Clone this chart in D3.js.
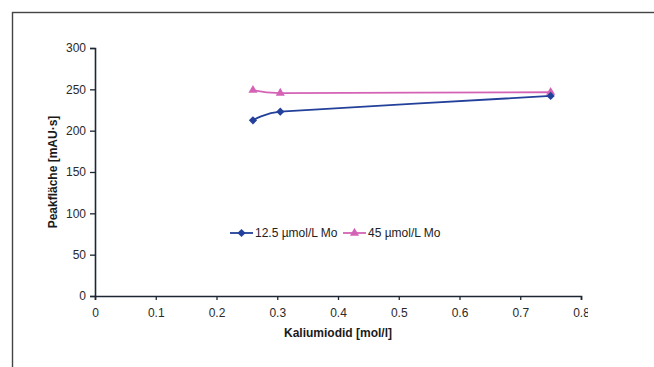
<!DOCTYPE html>
<html>
<head>
<meta charset="utf-8">
<script src="https://cdn.jsdelivr.net/npm/d3@7"></script>
<style>
  html, body { margin: 0; padding: 0; background: #fff; }
  svg { display: block; font-family: "Liberation Sans", Arial, sans-serif; }
</style>
</head>
<body>
<div id="chart"></div>
<script>
/* data */
const kiConc = [0.26, 0.305, 0.75];
const mo125 = [212.5, 223, 242];
const mo45 = [249, 245.5, 246.5];
const seriesNames = ["12.5 µmol/L Mo", "45 µmol/L Mo"];
const xTicks = [0, 0.1, 0.2, 0.3, 0.4, 0.5, 0.6, 0.7, 0.8];
const yTicks = [0, 50, 100, 150, 200, 250, 300];

const chartW = 654, chartH = 367;
const plotLeft = 95, plotRight = 581, plotTop = 48, plotBottom = 296;

const svg = d3.select("#chart").append("svg")
  .attr("width", chartW)
  .attr("height", chartH);

/* outer frame */
svg.append("rect")
  .attr("x", 12.5).attr("y", 12.5)
  .attr("width", 700).attr("height", 400)
  .attr("fill", "none").attr("stroke", "#444").attr("stroke-width", 1.4);

/* the plot picture is cut off on the right */
svg.append("clipPath").attr("id", "cut")
  .append("rect").attr("x", 0).attr("y", 0).attr("width", 588).attr("height", chartH);

const g = svg.append("g").attr("clip-path", "url(#cut)");

const x = d3.scaleLinear().domain([0, 0.8]).range([plotLeft, plotRight]);
const y = d3.scaleLinear().domain([0, 300]).range([plotBottom, plotTop]);

const xAxis = g.append("g")
  .attr("transform", `translate(0,${plotBottom})`)
  .call(d3.axisBottom(x).tickValues(xTicks).tickSize(4).tickPadding(8)
    .tickFormat(d => d === 0 ? "0" : d3.format(".1f")(d)));

const yAxis = g.append("g")
  .attr("transform", `translate(${plotLeft},0)`)
  .call(d3.axisLeft(y).tickValues(yTicks).tickSize(5).tickPadding(4));

[xAxis, yAxis].forEach(a => {
  a.select(".domain").attr("stroke", "#1c2733").attr("stroke-width", 1.6);
  a.selectAll(".tick line").attr("stroke", "#1c2733").attr("stroke-width", 1.3);
  a.selectAll(".tick text")
    .attr("fill", "#2a2a2a")
    .style("font-size", "12px")
    .style("font-family", "'Liberation Sans', Arial, sans-serif");
});

/* axis titles */
svg.append("text")
  .attr("x", (plotLeft + plotRight) / 2).attr("y", 337)
  .attr("text-anchor", "middle")
  .style("font-size", "12px").style("font-weight", "bold")
  .attr("fill", "#1a1a1a")
  .text("Kaliumiodid [mol/l]");

svg.append("text")
  .attr("transform", `translate(57,${(plotTop + plotBottom) / 2}) rotate(-90)`)
  .attr("text-anchor", "middle")
  .style("font-size", "12px").style("font-weight", "bold")
  .attr("fill", "#1a1a1a")
  .text("Peakfläche [mAU·s]");

/* series, lightly smoothed like the original */
const blue = "#23409a", pink = "#d463b6";
const line = d3.line()
  .x(d => x(d[0])).y(d => y(d[1]))
  .curve(d3.curveCardinal.tension(0.7));

const seriesA = kiConc.map((k, i) => [k, mo125[i]]);
const seriesB = kiConc.map((k, i) => [k, mo45[i]]);

/* square turned 45 degrees = excel diamond */
const diamond = d3.symbol().type(d3.symbolSquare).size(34);
const triangle = d3.symbol().type(d3.symbolTriangle).size(36);

g.append("path").datum(seriesB)
  .attr("d", line).attr("fill", "none")
  .attr("stroke", pink).attr("stroke-width", 1.8);
g.selectAll(".mB").data(seriesB).join("path")
  .attr("class", "mB")
  .attr("transform", d => `translate(${x(d[0])},${y(d[1])})`)
  .attr("d", triangle).attr("fill", pink);

g.append("path").datum(seriesA)
  .attr("d", line).attr("fill", "none")
  .attr("stroke", blue).attr("stroke-width", 1.8);
g.selectAll(".mA").data(seriesA).join("path")
  .attr("class", "mA")
  .attr("transform", d => `translate(${x(d[0])},${y(d[1])}) rotate(45)`)
  .attr("d", diamond).attr("fill", blue);

/* legend */
const legend = svg.append("g").attr("transform", "translate(0,233)");
const legendItems = [
  { name: seriesNames[0], color: blue, sym: diamond, rot: 45, x0: 230 },
  { name: seriesNames[1], color: pink, sym: triangle, rot: 0, x0: 343 }
];
legendItems.forEach(it => {
  legend.append("line")
    .attr("x1", it.x0).attr("x2", it.x0 + 23)
    .attr("y1", 0).attr("y2", 0)
    .attr("stroke", it.color).attr("stroke-width", 1.8);
  legend.append("path")
    .attr("transform", `translate(${it.x0 + 11.5},0) rotate(${it.rot})`)
    .attr("d", it.sym).attr("fill", it.color);
  legend.append("text")
    .attr("x", it.x0 + 25).attr("y", 4)
    .style("font-size", "12px")
    .attr("fill", "#222")
    .text(it.name);
});
</script>
</body>
</html>
